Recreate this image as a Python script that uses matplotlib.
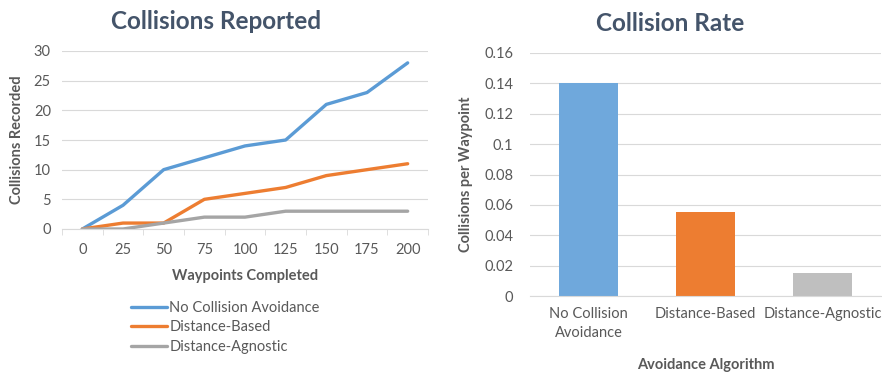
import matplotlib.pyplot as plt
import numpy as np

plt.rcParams['font.family'] = ['Lato', 'DejaVu Sans']

waypoints = ['0', '25', '50', '75', '100', '125', '150', '175', '200']
no_avoid = [0, 4, 10, 12, 14, 15, 21, 23, 28]
dist_based = [0, 1, 1, 5, 6, 7, 9, 10, 11]
dist_agnostic = [0, 0, 1, 2, 2, 3, 3, 3, 3]

algorithms = ['No Collision\nAvoidance', 'Distance-Based', 'Distance-Agnostic']
rates = [0.14, 0.055, 0.015]

blue = '#5B9BD5'
orange = '#ED7D31'
gray = '#A5A5A5'
title_col = '#44546A'
tick_col = '#595959'
grid_col = '#D9D9D9'

fig = plt.figure(figsize=(8.82, 3.72), dpi=100)

# --- Left: line chart ---
ax1 = fig.add_axes([62 / 882, 1 - 229 / 372, 366 / 882, 178 / 372])
x = np.arange(len(waypoints))
ax1.plot(x, no_avoid, color=blue, lw=2.4, label='No Collision Avoidance', solid_capstyle='round')
ax1.plot(x, dist_based, color=orange, lw=2.4, label='Distance-Based', solid_capstyle='round')
ax1.plot(x, dist_agnostic, color=gray, lw=2.4, label='Distance-Agnostic', solid_capstyle='round')
ax1.set_xlim(-0.5, len(waypoints) - 0.5)
ax1.set_ylim(0, 30)
ax1.set_yticks(range(0, 31, 5))
ax1.set_xticks(x)
ax1.set_xticklabels(waypoints)
ax1.set_xticks(np.arange(-0.5, len(waypoints), 1), minor=True)
ax1.tick_params(axis='x', which='major', length=0, pad=10, labelsize=10.5, colors=tick_col)
ax1.tick_params(axis='x', which='minor', length=4, color=grid_col, direction='out')
ax1.tick_params(axis='y', length=0, pad=8, labelsize=10.5, colors=tick_col)
ax1.grid(axis='y', color=grid_col, lw=0.8)
ax1.set_axisbelow(True)
for s in ['top', 'right', 'left']:
    ax1.spines[s].set_visible(False)
ax1.spines['bottom'].set_color(grid_col)
ax1.set_xlabel('Waypoints Completed', fontsize=10.5, fontweight='bold', color=tick_col, labelpad=9)
ax1.set_ylabel('Collisions Recorded', fontsize=10.5, fontweight='bold', color=tick_col, labelpad=7)
ax1.set_title('Collisions Reported', fontsize=17.5, fontweight='bold', color=title_col, pad=16, x=0.42)
ax1.legend(loc='upper left', bbox_to_anchor=(0.16, -0.345), frameon=False, fontsize=10.5,
           handlelength=2.5, handletextpad=0.15, labelspacing=0.4, labelcolor=tick_col,
           borderpad=0.2)

# --- Right: bar chart ---
ax2 = fig.add_axes([530 / 882, 1 - 296 / 372, 351 / 882, 243 / 372])
xb = np.arange(len(algorithms))
ax2.bar(xb, rates, width=0.5, color=['#6FA8DC', orange, '#BFBFBF'])
ax2.set_xlim(-0.5, len(algorithms) - 0.5)
ax2.set_ylim(0, 0.16)
yt = np.arange(0, 0.161, 0.02)
ax2.set_yticks(yt)
ax2.set_yticklabels(['0', '0.02', '0.04', '0.06', '0.08', '0.1', '0.12', '0.14', '0.16'])
ax2.set_xticks(xb)
ax2.set_xticklabels(algorithms, linespacing=1.45)
ax2.tick_params(axis='x', length=0, pad=8, labelsize=10.5, colors=tick_col)
ax2.tick_params(axis='y', length=0, pad=12, labelsize=10.5, colors=tick_col)
ax2.grid(axis='y', color=grid_col, lw=0.8)
ax2.set_axisbelow(True)
for s in ['top', 'right', 'left']:
    ax2.spines[s].set_visible(False)
ax2.spines['bottom'].set_color(grid_col)
ax2.set_xlabel('Avoidance Algorithm', fontsize=10.5, fontweight='bold', color=tick_col, labelpad=13)
ax2.set_ylabel('Collisions per Waypoint', fontsize=10.5, fontweight='bold', color=tick_col, labelpad=8)
ax2.set_title('Collision Rate', fontsize=17.5, fontweight='bold', color=title_col, pad=16, x=0.4)

fig.savefig('out.png', dpi=100)
